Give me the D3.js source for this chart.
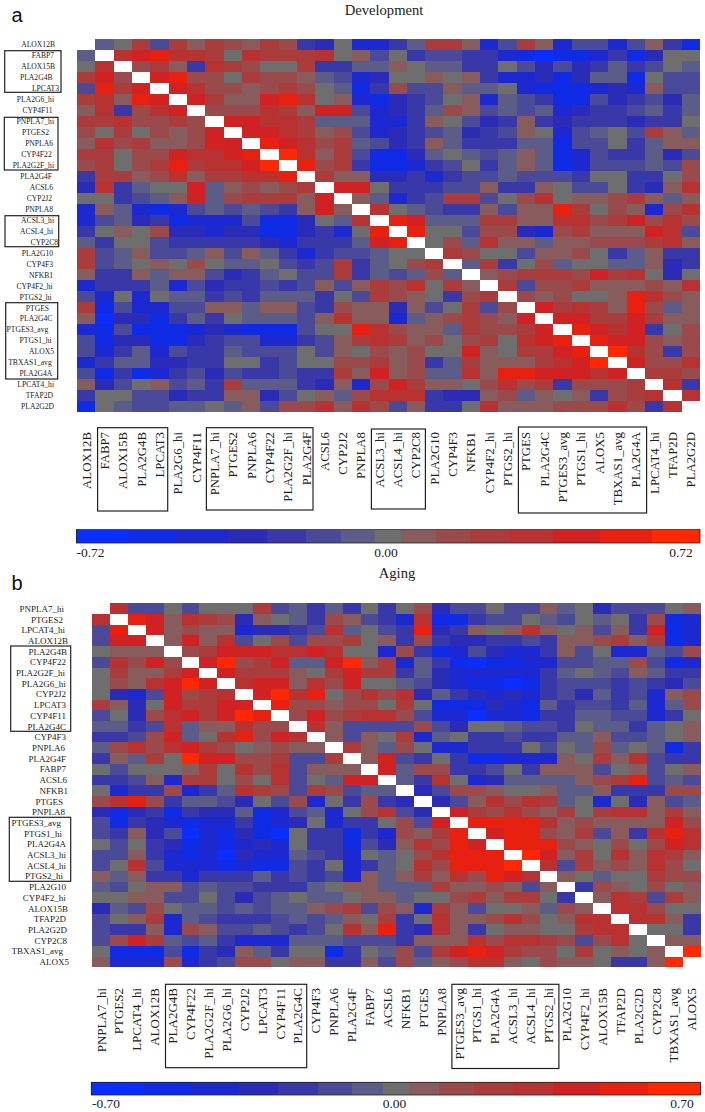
<!DOCTYPE html>
<html><head><meta charset="utf-8">
<script src="https://cdnjs.cloudflare.com/ajax/libs/d3/7.8.5/d3.min.js"></script>
<style>html,body{margin:0;padding:0;background:#fff}svg{display:block}text{font-family:"Liberation Serif",serif;fill:#222}</style>
</head><body><svg id="c" width="705" height="1112"></svg>
<script>
const genesA = ["ALOX12B","FABP7","ALOX15B","PLA2G4B","LPCAT3","PLA2G6_hi","CYP4F11","PNPLA7_hi","PTGES2","PNPLA6","CYP4F22","PLA2G2F_hi","PLA2G4F","ACSL6","CYP2J2","PNPLA8","ACSL3_hi","ACSL4_hi","CYP2C8","PLA2G10","CYP4F3","NFKB1","CYP4F2_hi","PTGS2_hi","PTGES","PLA2G4C","PTGES3_avg","PTGS1_hi","ALOX5","TBXAS1_avg","PLA2G4A","LPCAT4_hi","TFAP2D","PLA2G2D"];
const genesB = ["PNPLA7_hi","PTGES2","LPCAT4_hi","ALOX12B","PLA2G4B","CYP4F22","PLA2G2F_hi","PLA2G6_hi","CYP2J2","LPCAT3","CYP4F11","PLA2G4C","CYP4F3","PNPLA6","PLA2G4F","FABP7","ACSL6","NFKB1","PTGES","PNPLA8","PTGES3_avg","PTGS1_hi","PLA2G4A","ACSL3_hi","ACSL4_hi","PTGS2_hi","PLA2G10","CYP4F2_hi","ALOX15B","TFAP2D","PLA2G2D","CYP2C8","TBXAS1_avg","ALOX5"];

// Upper triangles of the symmetric correlation matrices, as colour-bin numbers (-7 .. 7)
const upperA = [
[-1,0,3,-2,3,1,3,2,1,3,2,-3,-4,0,-5,-5,-3,-1,3,3,1,-5,-2,3,1,-5,-2,-2,-5,-2,1,-3,-6],
[4,5,6,4,4,3,0,4,3,3,3,4,0,1,-2,0,-3,-2,-2,-3,-3,-5,-6,-7,-6,-6,-5,-3,-6,-4,0,0],
[2,3,1,-3,4,3,2,0,0,3,-3,-3,-1,-1,1,0,-1,-1,-3,-3,0,-2,-4,-2,-4,-3,-1,-3,-2,0,-1],
[5,6,2,2,0,3,2,2,1,-1,-2,-5,-4,0,0,1,0,1,-3,-5,-5,-4,-6,-4,-1,-1,-6,0,-2,-2],
[5,4,2,2,1,2,3,2,0,-1,-6,-3,2,-2,-2,1,-1,-1,0,-5,-6,-6,-6,-5,-4,-5,1,-2,-2],
[5,3,1,1,5,6,4,0,1,-5,-6,-4,-3,-2,0,1,-5,-1,-2,-3,-6,-6,-2,-4,-3,-2,-4,-1],
[2,2,2,4,3,1,5,5,-2,-5,-4,-3,-1,2,1,-2,-1,-2,-1,-5,-4,-3,-3,-2,-1,-3,-1],
[5,5,4,4,3,-1,-1,-1,-5,-5,-3,1,0,-2,-4,-3,1,-3,-4,-3,-3,-3,-4,-3,-3,0],
[5,5,4,3,1,2,-2,-5,-4,-3,-2,-1,-4,-3,-2,1,0,-5,-2,-1,0,-2,3,1,-1],
[6,5,4,2,3,-1,-2,-4,-3,1,-1,-3,-3,-3,-1,-1,-6,-2,-2,0,-3,-1,1,1],
[7,4,1,3,-2,-6,-6,-4,-1,0,-1,-2,-1,1,-1,-6,-5,-2,-3,-3,-1,-4,-2],
[6,2,3,-3,-6,-6,-5,-3,-2,0,-3,-1,1,-1,-6,-5,-2,-2,-2,-1,-2,2],
[3,1,1,-4,-4,-3,-5,-3,-2,-2,-1,-2,-2,-2,-3,0,0,-3,-3,0,2],
[5,5,0,-3,-3,-3,-2,-2,1,-3,-3,1,0,-2,-2,0,-3,-4,1,4],
[1,-1,-5,-3,-2,3,3,-2,0,2,4,0,1,1,2,3,1,-1,1],
[4,0,-1,-2,-3,-3,1,-2,1,1,6,3,0,2,1,-5,2,4],
[6,5,-1,-1,-1,3,3,1,1,4,4,2,3,5,2,4,2],
[6,0,0,-2,2,2,-4,-5,2,3,1,1,1,5,4,-2],
[0,2,-1,4,1,1,-1,1,1,2,2,2,3,4,1],
[3,2,0,0,-2,1,1,2,0,-3,-1,1,-3,-3],
[-1,3,-3,0,2,-1,0,0,-1,-1,1,-4,-3],
[1,2,3,3,3,2,5,3,4,0,-4,0],
[3,-2,2,2,3,1,1,1,2,1,4],
[2,1,2,0,0,1,6,4,2,1],
[5,3,4,3,1,6,2,-1,1],
[5,5,3,3,5,3,1,1],
[6,5,4,5,-3,0,2],
[6,5,5,2,1,2],
[7,4,2,-3,2],
[5,2,2,4],
[3,3,2],
[4,-3],
[4]];
const upperB = [
[4,-2,-2,0,-2,0,0,0,3,-2,-1,-3,-1,-3,0,-3,0,2,-4,-2,-2,0,-2,-2,1,-1,0,-4,-2,-2,-2,0,1],
[6,5,1,4,3,2,-4,1,0,-1,-3,2,1,-2,-3,-5,4,-6,-6,-3,-2,-2,0,-1,-2,0,-1,0,-3,2,-6,-5],
[5,1,2,1,1,-5,-4,-4,-3,-2,4,-1,0,-2,-3,6,-4,-3,1,0,1,4,1,0,1,-2,1,-3,5,-6,-5],
[1,5,1,4,-2,0,2,-2,2,2,3,0,1,-3,2,-3,-4,-4,-3,-3,-2,-3,1,1,2,3,1,3,-6,-5],
[2,3,5,5,5,4,4,5,4,0,0,-5,2,-3,-6,-5,-2,-4,-5,-5,-3,1,-2,0,-5,-5,-1,-2,2],
[5,7,2,3,5,-1,-1,5,7,1,3,-5,-1,-3,-6,-7,-6,-6,-5,-5,-2,-2,-1,-1,2,-2,-6,-5],
[5,3,3,3,1,0,3,5,3,3,-3,-1,-4,-5,-5,-5,-5,-5,-3,-1,0,-1,-2,1,-1,-3,-3],
[4,5,5,1,4,2,5,0,0,-1,-2,-4,-5,-6,-6,-7,-6,-3,-2,-2,-2,-3,-2,-3,-4,-2],
[5,7,4,6,0,2,4,2,4,-4,-1,-3,-4,-5,-4,-5,-3,-2,-4,-1,-3,-2,-5,1,2],
[6,2,2,1,2,2,0,3,0,-6,-6,-6,-4,-5,-6,-1,-3,-2,-2,-3,-1,-5,-1,2],
[2,5,2,3,4,4,2,-2,-5,-5,-7,-5,-5,-6,-3,-3,-1,-1,-2,-2,-5,-3,0],
[4,1,-2,-2,-2,-2,2,-2,-4,0,0,-1,-2,-2,-3,0,-1,-1,-3,-1,0,1],
[1,-2,1,0,3,-5,-1,0,-3,-3,-2,-3,-3,-1,-1,1,-2,-2,-1,0,1],
[3,1,-1,2,0,-5,-5,-3,-3,-3,0,-2,0,-1,2,-1,0,-1,-6,-3],
[1,5,-2,-3,0,-3,-6,-6,-5,-5,-5,1,0,3,1,4,-2,-3,-3],
[5,-1,2,2,-3,-3,-2,0,-3,1,1,1,-2,0,1,-2,0,1],
[-1,-3,4,0,-5,-4,-1,-1,-1,-1,1,2,3,6,-2,-1,-2],
[-4,-2,2,2,1,0,0,1,-1,-1,1,-3,-3,-3,2,2],
[-4,-2,1,4,2,4,3,-1,0,-5,0,-4,1,-2,-1],
[5,3,2,4,2,1,3,0,3,4,4,1,3,1],
[6,6,6,6,4,1,2,1,1,1,1,5,2],
[5,6,6,2,1,3,-2,1,-3,4,6,4],
[6,6,6,2,1,0,2,0,2,5,4],
[7,5,1,3,0,4,1,4,3,1],
[4,-2,3,1,2,1,4,2,0],
[1,0,-1,0,0,3,2,2],
[-3,2,1,0,2,0,1],
[1,4,3,-2,3,1],
[4,4,2,0,0],
[4,4,1,-3],
[0,0,-3],
[1,1],
[7]];

const bins = d3.range(-7,8);
const binColors = ["#0a2eff","#0f2be6","#1c28d0","#2a2cb8","#3838a8","#4a4a98","#5c5c88","#6e6e6e","#885c5c","#9a4a4a","#aa3c3c","#b83232","#d02222","#e8200f","#ff2800"];
const color = d3.scaleOrdinal(bins,binColors);

const legendEdgesA = [-0.72,-0.60,-0.49,-0.37,-0.28,-0.19,-0.11,-0.03,0.03,0.11,0.19,0.28,0.38,0.49,0.61,0.72];
const legendEdgesB = [-0.70,-0.58,-0.47,-0.36,-0.27,-0.18,-0.10,-0.03,0.03,0.10,0.18,0.27,0.36,0.47,0.58,0.70];

const rowLabelEndA = [55,54,55,52.5,59,54,52.5,54,49,53,51.7,54,52,53,52,53,54,53,58,53,53,53,52.7,51.7,49,52.3,48.3,51.7,54,51.7,52.3,54,53,54];
const rowLabelEndB = [64,63,65,68,67,66,65,65.7,66,66,66,66,66,65,66,66,67,68,63,65,61,62,66,66,66,63,66,65.7,68,66,67,67,63,69];

const panels = [
 {genes:genesA,upper:upperA,title:"Development",titleX:384,titleY:14.5,letter:"a",letterY:22,
  x0:77,x1:700,y0:39.3,y1:412,rowEnd:rowLabelEndA,rowFont:7.6,colEnd:432,colFont:12.8,
  rowBoxes:[[4.7,61,50.7,92.3],[4.3,58,117.3,170],[5,58.7,215.7,246.7],[5.7,57.7,302.7,379]],
  colBoxes:[[97.6,167.7,427.7,511],[206.4,313,427.7,510],[371.4,425.4,429,509],[518.4,646.6,427,513]],
  lx0:76.4,lx1:700,ly0:529.5,ly1:543,edges:legendEdgesA,lab:["-0.72","0.00","0.72"],labY:557,labX:[76.4,386,681]},
 {genes:genesB,upper:upperB,title:"Aging",titleX:397,titleY:578,letter:"b",letterY:590,
  x0:92,x1:700.7,y0:603.3,y1:967.3,rowEnd:rowLabelEndB,rowFont:9,colEnd:988,colFont:13,
  rowBoxes:[[10.7,70.7,646,731.3],[9.3,70.7,817.3,881.3]],
  colBoxes:[[165.5,306.7,984.3,1067.7],[451.9,558.9,984.3,1068.5]],
  lx0:91.3,lx1:700.5,ly0:1082.3,ly1:1095,edges:legendEdgesB,lab:["-0.70","0.00","0.70"],labY:1108,labX:[92,394.5,682]}
];

const svg = d3.select("#c");
panels.forEach(p=>{
  const g = svg.append("g");
  const idx = d3.range(p.genes.length);
  const x = d3.scaleBand(idx,[p.x0,p.x1]);
  const y = d3.scaleBand(idx,[p.y0,p.y1]);
  const xL = i=>Math.round(x(i)), yT = i=>Math.round(y(i));
  const xR = i=>Math.round(x(i)+x.bandwidth()), yB = i=>Math.round(y(i)+y.bandwidth());
  const cells = [];
  p.upper.forEach((row,i)=>row.forEach((v,k)=>{
    const j=i+1+k;
    cells.push({i,j,v},{i:j,j:i,v});
  }));
  g.append("g").style("filter","blur(0.4px)").attr("shape-rendering","crispEdges")
    .selectAll("rect").data(cells).join("rect")
    .attr("x",d=>xL(d.j)).attr("y",d=>yT(d.i))
    .attr("width",d=>xR(d.j)-xL(d.j)).attr("height",d=>yB(d.i)-yT(d.i))
    .attr("fill",d=>color(d.v));
  // row labels
  g.append("g").selectAll("text").data(p.genes).join("text")
    .attr("x",(d,i)=>p.rowEnd[i]).attr("y",(d,i)=>y(i)+y.bandwidth()/2)
    .attr("dy","0.35em").attr("text-anchor","end").attr("font-size",p.rowFont).text(d=>d);
  // column labels
  g.append("g").selectAll("text").data(p.genes).join("text")
    .attr("transform",(d,i)=>`translate(${x(i)+x.bandwidth()/2},${p.colEnd}) rotate(-90)`)
    .attr("dy","0.35em").attr("text-anchor","end").attr("font-size",p.colFont).text(d=>d);
  // highlight boxes
  g.append("g").selectAll("rect").data(p.rowBoxes.concat(p.colBoxes)).join("rect")
    .attr("x",d=>d[0]).attr("y",d=>d[2]).attr("width",d=>d[1]-d[0]).attr("height",d=>d[3]-d[2])
    .attr("fill","none").attr("stroke","#222").attr("stroke-width",1.2);
  // colour bar
  const lx = d3.scaleLinear([p.edges[0],p.edges[p.edges.length-1]],[p.lx0,p.lx1]);
  g.append("g").attr("shape-rendering","crispEdges").selectAll("rect").data(bins).join("rect")
    .attr("x",(d,i)=>Math.round(lx(p.edges[i]))).attr("y",p.ly0)
    .attr("width",(d,i)=>Math.round(lx(p.edges[i+1]))-Math.round(lx(p.edges[i]))).attr("height",p.ly1-p.ly0)
    .attr("fill",d=>color(d));
  g.append("rect").attr("x",p.lx0).attr("y",p.ly0).attr("width",p.lx1-p.lx0).attr("height",p.ly1-p.ly0)
    .attr("fill","none").attr("stroke","#222").attr("stroke-width",0.8);
  g.append("g").selectAll("text").data(p.lab).join("text")
    .attr("x",(d,i)=>p.labX[i]).attr("y",p.labY)
    .attr("text-anchor",(d,i)=>i==0?"start":"middle").attr("font-size",13.5).text(d=>d);
  // title & letter
  g.append("text").attr("x",p.titleX).attr("y",p.titleY).attr("text-anchor","middle").attr("font-size",14.6).text(p.title);
  g.append("text").attr("x",11.5).attr("y",p.letterY).attr("font-size",20)
    .style("font-family","'Liberation Sans',sans-serif").style("fill","#111").text(p.letter);
});
</script></body></html>
